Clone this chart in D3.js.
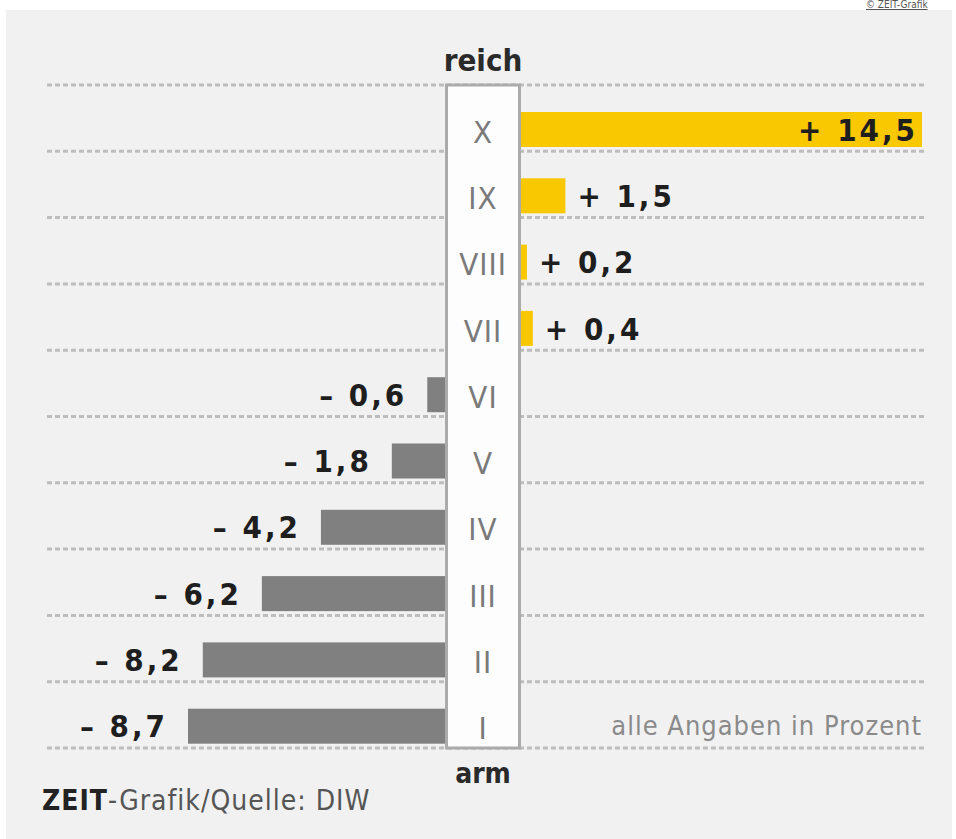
<!DOCTYPE html>
<html lang="de">
<head>
  <meta charset="UTF-8">
  <title>Einkommensveränderung nach Dezilen</title>
  <script src="https://d3js.org/d3.v7.min.js"></script>
  <style>
    body { margin: 0; background: #fff; }
    svg text { font-family: "DejaVu Sans Condensed", "DejaVu Sans", sans-serif; }
  </style>
</head>
<body>
  <div id="chart"></div>

  <script>
    // Dezile von reich (oben) nach arm (unten)
    const deciles = ["X", "IX", "VIII", "VII", "VI", "V", "IV", "III", "II", "I"];
    const changes = [14.5, 1.5, 0.2, 0.4, -0.6, -1.8, -4.2, -6.2, -8.2, -8.7];
    const labels = ["+ 14,5", "+ 1,5", "+ 0,2", "+ 0,4", "\u2013 0,6", "\u2013 1,8", "\u2013 4,2", "\u2013 6,2", "\u2013 8,2", "\u2013 8,7"];

    const W = 956, H = 839;
    const svg = d3.select("#chart").append("svg")
      .attr("width", W)
      .attr("height", H);

    // panel
    svg.append("rect")
      .attr("x", 6).attr("y", 10)
      .attr("width", 946).attr("height", H - 10)
      .attr("fill", "#f1f1f1");

    // credit link at the top right
    svg.append("text")
      .attr("x", 866).attr("y", 8)
      .attr("font-size", 10)
      .attr("fill", "#555")
      .attr("text-decoration", "underline")
      .text("\u00a9 ZEIT-Grafik");

    const boxL = 445, boxR = 521;

    const y = d3.scaleBand()
      .domain(deciles)
      .range([85, 748])
      .paddingInner(0);

    // bars grow away from the centre column
    const xPos = d3.scaleLinear().domain([0, 13.55]).range([boxR, 922]).clamp(true);
    const xNeg = d3.scaleLinear().domain([0, -8.7]).range([boxL, 188]);

    const barTop = 27, barH = 35;

    // dashed row lines
    const lines = y.domain().map(d => y(d)).concat([748]);
    svg.append("g")
      .selectAll("line")
      .data(lines)
      .join("line")
      .attr("x1", 47).attr("x2", 924)
      .attr("y1", d => d).attr("y2", d => d)
      .attr("stroke", "#bdbdbd")
      .attr("stroke-width", 3)
      .attr("stroke-dasharray", "5,3");

    // centre column
    svg.append("rect")
      .attr("x", boxL + 1.5).attr("y", 85)
      .attr("width", boxR - boxL - 3).attr("height", 748 - 85)
      .attr("fill", "#fdfdfd")
      .attr("stroke", "#ababab")
      .attr("stroke-width", 3);

    const rows = deciles.map((d, i) => ({ dec: d, v: changes[i], lab: labels[i] }));

    // bars
    svg.append("g")
      .selectAll("rect")
      .data(rows)
      .join("rect")
      .attr("x", d => d.v >= 0 ? boxR : xNeg(d.v))
      .attr("width", d => d.v >= 0 ? xPos(d.v) - boxR : boxL - xNeg(d.v))
      .attr("y", d => y(d.dec) + barTop)
      .attr("height", barH)
      .attr("fill", d => d.v >= 0 ? "#f9c800" : "#808080");

    // value labels
    svg.append("g")
      .selectAll("text")
      .data(rows)
      .join("text")
      .attr("x", d => {
        if (d.v < 0) return xNeg(d.v) - 20;
        if (xPos(d.v) > 880) return xPos(d.v) - 4;
        return xPos(d.v) + 12;
      })
      .attr("y", d => y(d.dec) + barTop + barH / 2)
      .attr("dy", "0.36em")
      .attr("text-anchor", d => (d.v < 0 || xPos(d.v) > 880) ? "end" : "start")
      .attr("font-size", 31)
      .attr("font-weight", "bold")
      .attr("letter-spacing", 3)
      .attr("fill", "#1e1e1e")
      .text(d => d.lab);

    // roman numerals
    svg.append("g")
      .selectAll("text")
      .data(rows)
      .join("text")
      .attr("x", (boxL + boxR) / 2)
      .attr("y", d => y(d.dec) + barTop + barH / 2 + 2)
      .attr("dy", "0.36em")
      .attr("text-anchor", "middle")
      .attr("font-size", 31)
      .attr("letter-spacing", 1)
      .attr("fill", "#7a7a7a")
      .text(d => d.dec);

    // column captions
    svg.append("text")
      .attr("x", (boxL + boxR) / 2).attr("y", 71)
      .attr("text-anchor", "middle")
      .attr("font-size", 31).attr("font-weight", "bold")
      .attr("fill", "#2a2a2a")
      .text("reich");
    svg.append("text")
      .attr("x", (boxL + boxR) / 2).attr("y", 783)
      .attr("text-anchor", "middle")
      .attr("font-size", 28).attr("font-weight", "bold")
      .attr("fill", "#2a2a2a")
      .text("arm");

    svg.append("text")
      .attr("x", 922).attr("y", 735)
      .attr("text-anchor", "end")
      .attr("font-size", 27)
      .attr("letter-spacing", 1)
      .attr("fill", "#8a8a8a")
      .text("alle Angaben in Prozent");

    const src = svg.append("text")
      .attr("x", 42).attr("y", 810)
      .attr("font-size", 28)
      .attr("letter-spacing", 1)
      .attr("fill", "#555");
    src.append("tspan").attr("font-weight", "bold").attr("fill", "#222").text("ZEIT");
    src.append("tspan").text("-Grafik/Quelle: DIW");
  </script>
</body>
</html>
